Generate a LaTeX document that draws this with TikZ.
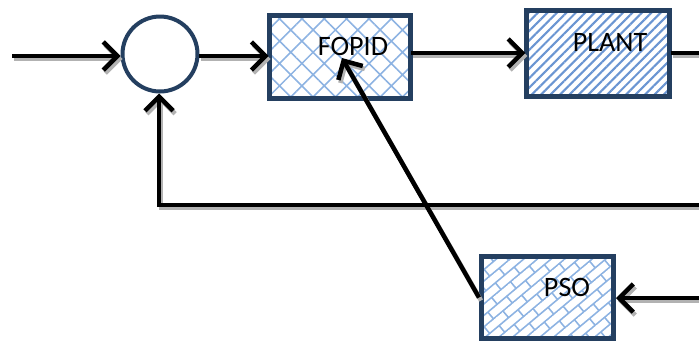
\documentclass[tikz,border=0pt]{standalone}
\usepackage{fontspec}
\setmainfont{Carlito}
\usetikzlibrary{arrows.meta, patterns, patterns.meta, positioning}
\definecolor{boxedge}{HTML}{243F60}
\definecolor{hatchblue}{HTML}{8DB3E2}
\definecolor{stripeblue}{HTML}{6A95D2}
\pgfdeclarepattern{
  name=slantbricks,
  parameters={},
  bottom left={\pgfpoint{-.5pt}{-.5pt}},
  top right={\pgfpoint{14.5pt}{10.5pt}},
  tile size={\pgfpoint{14pt}{10pt}},
  tile transformation={\pgftransformrotate{40}},
  code={
    \pgfsetlinewidth{0.9pt}
    \pgfpathmoveto{\pgfpoint{0pt}{0pt}}\pgfpathlineto{\pgfpoint{14pt}{0pt}}
    \pgfpathmoveto{\pgfpoint{0pt}{5pt}}\pgfpathlineto{\pgfpoint{14pt}{5pt}}
    \pgfpathmoveto{\pgfpoint{0pt}{0pt}}\pgfpathlineto{\pgfpoint{0pt}{5pt}}
    \pgfpathmoveto{\pgfpoint{7pt}{5pt}}\pgfpathlineto{\pgfpoint{7pt}{10pt}}
    \pgfusepath{stroke}
  }
}
\tikzset{
  blockbox/.style={rectangle, draw=boxedge, line width=0.1cm, inner sep=0pt},
  wire/.style={line width=0.09cm},
  arr/.style={wire, -{Straight Barb[length=8pt, width=16pt]}},
  lbl/.style={font=\fontsize{16}{19}\selectfont}
}

\begin{document}
\begin{tikzpicture}[x=0.02cm, y=-0.02cm]
        \useasboundingbox (0,0) rectangle (699,343);

        % summing junction
        \node[circle, draw=boxedge, line width=0.08cm, minimum size=1.5cm, inner sep=0pt, fill=white] at (160, 54) (sum) {};

        % blocks
        \node[blockbox, minimum width=2.82cm, minimum height=1.66cm,
              pattern={Hatch[angle=45, distance=9pt, line width=0.9pt]}, pattern color=hatchblue] at (340, 57) (fopid) {};
        \node[blockbox, minimum width=2.86cm, minimum height=1.72cm,
              pattern={Lines[angle=45, distance=3.8pt, line width=1.2pt]}, pattern color=stripeblue] at (598, 53.5) (plant) {};
        \node[blockbox, minimum width=2.64cm, minimum height=1.64cm,
              pattern=slantbricks, pattern color=hatchblue] at (547.5, 297.5) (pso) {};

        % free ends
        \coordinate (in) at (12, 56);
        \coordinate (out) at (699, 53);
        \coordinate (fbin) at (699, 205);
        \coordinate (fbcorner) at (159, 205);
        \coordinate (psoin) at (699, 298);
        \coordinate (tune) at (342, 58);

        % connectors, grey shadow first
        \foreach \col/\dx/\dy in {black!30/0.04/-0.06, black/0/0} {
          \begin{scope}[draw=\col, transform canvas={shift={(\dx cm,\dy cm)}}]
            \draw[arr] (in) -- (sum.west |- in);
            \draw[arr] (sum.east |- in) -- (fopid.west |- in);
            \draw[arr] (fopid.east |- out) -- (plant.west |- out);
            \draw[wire] (plant.east |- out) -- (out);
            \draw[arr] (fbin) -- (fbcorner) -- (fbcorner |- sum.south);
            \draw[arr] (psoin) -- (pso.east |- psoin);
            \draw[arr] (pso.west) -- (tune);
          \end{scope}
        }

        % labels
        \node[lbl] at (353, 46) (fopidtxt) {FOPID};
        \node[lbl] at (610, 42) (planttxt) {PLANT};
        \node[lbl] at (567, 287) (psotxt) {PSO};
    \end{tikzpicture}
\end{document}
